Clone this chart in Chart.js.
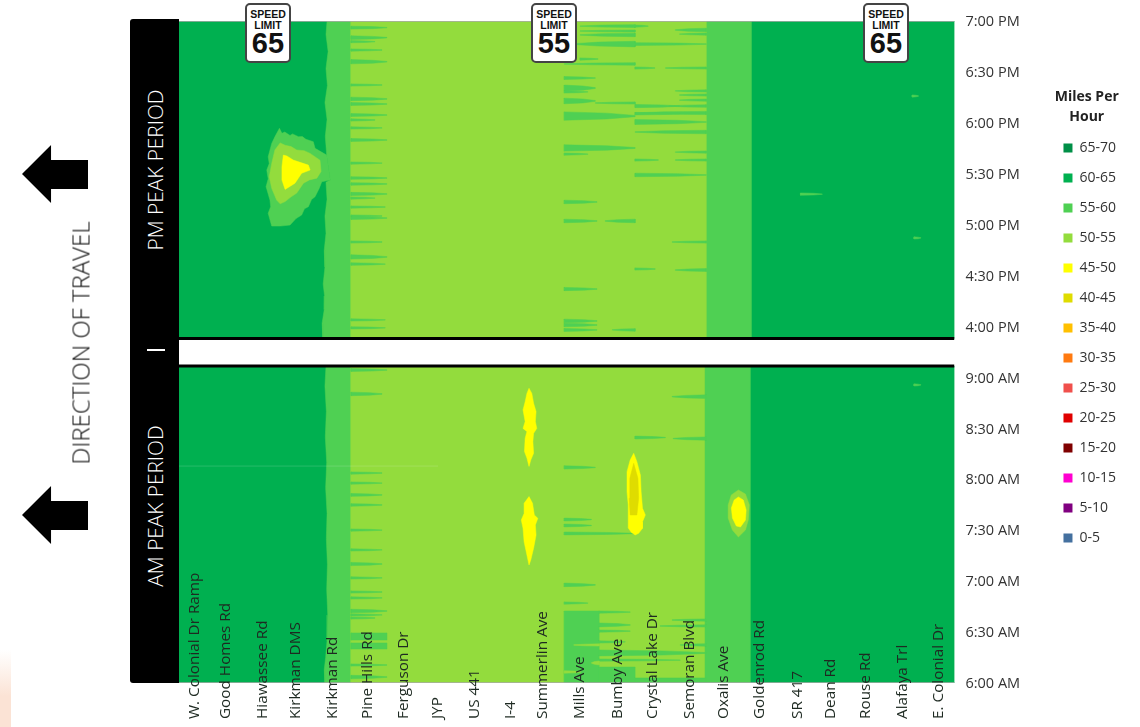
<!DOCTYPE html>
<html>
<head>
<meta charset="utf-8">
<title>Speed heat map</title>
<script src="https://cdn.jsdelivr.net/npm/chart.js@4"></script>
<style>
  html, body { margin: 0; background: #fff; font-family: "Open Sans", sans-serif; overflow: hidden; }
  #wrap { position: relative; width: 1140px; height: 727px; }
  #wrap canvas { position: absolute; left: 0; top: 0; }
  .peach { position: absolute; left: 0; top: 650px; width: 11px; height: 77px; background: linear-gradient(#fff, #fbe3d5 60%); }
  .side { position: absolute; left: 130px; top: 19px; width: 49px; height: 664px; background: #000; border-radius: 3px 0 0 3px; }
  .dash { position: absolute; left: 147px; top: 349px; width: 18px; height: 2px; background: #fff; }
  .rot { position: absolute; white-space: nowrap; transform: translate(-50%, -50%) rotate(-90deg); }
  .period { color: #fff; font-size: 20.8px; font-weight: 300; }
  .dir { color: #111; font-size: 24px; font-weight: 300; }
  .arrow { position: absolute; left: 22px; width: 66px; height: 58px; background: #000;
    clip-path: polygon(0 50%, 44% 0, 44% 26%, 100% 26%, 100% 76%, 44% 76%, 44% 100%); }
  .sign { position: absolute; top: 3px; width: 42px; height: 56px; background: #fff; border: 2px solid #444; border-radius: 5px;
    text-align: center; font-family: "Liberation Sans", sans-serif; font-weight: bold; color: #111; }
  .sign small { display: block; font-size: 10.5px; line-height: 10.5px; margin-top: 4px; }
  .sign b { display: block; font-size: 29px; line-height: 27px; }
</style>
</head>
<body>
<div id="wrap">
  <canvas id="chart" width="1140" height="727"></canvas>
  <div class="peach"></div>
  <div class="side"></div>
  <div class="dash"></div>
  <div class="rot period" style="left:155px;top:170px">PM PEAK PERIOD</div>
  <div class="rot period" style="left:155px;top:506px">AM PEAK PERIOD</div>
  <div class="rot dir" style="left:80px;top:343px">DIRECTION OF TRAVEL</div>
  <div class="arrow" style="top:145px"></div>
  <div class="arrow" style="top:486px"></div>
  <div class="sign" style="left:245px"><small>SPEED<br>LIMIT</small><b>65</b></div>
  <div class="sign" style="left:531px"><small>SPEED<br>LIMIT</small><b>55</b></div>
  <div class="sign" style="left:863px"><small>SPEED<br>LIMIT</small><b>65</b></div>
</div>
<script>
// legend bins, fastest first
const speedBins = ['65-70','60-65','55-60','50-55','45-50','40-45','35-40','30-35','25-30','20-25','15-20','10-15','5-10','0-5'];
const speedColors = ['#008f47','#00b050','#4fd053','#93dc3d','#ffff00','#dfdc00','#ffc000','#ff7a10','#f0504c','#e00000','#7f0000','#ff00d0','#800080','#44709f'];

// y axis runs in half hour steps, 30 units per tick
const timeLabels = ['6:00 AM','6:30 AM','7:00 AM','7:30 AM','8:00 AM','8:30 AM','9:00 AM','4:00 PM','4:30 PM','5:00 PM','5:30 PM','6:00 PM','6:30 PM','7:00 PM'];

const stations = ['W. Colonial Dr Ramp','Good Homes Rd','Hiawassee Rd','Kirkman DMS','Kirkman Rd','Pine Hills Rd','Ferguson Dr','JYP','US 441','I-4','Summerlin Ave','Mills Ave','Bumby Ave','Crystal Lake Dr','Semoran Blvd','Oxalis Ave','Goldenrod Rd','SR 417','Dean Rd','Rouse Rd','Alafaya Trl','E. Colonial Dr'];
const stationMiles = [0.43,1.33,2.36,3.32,4.37,5.34,6.36,7.35,8.40,9.40,10.33,11.38,12.43,13.45,14.48,15.44,16.46,17.54,18.48,19.47,20.52,21.54];

// period limits on the y axis
const amRange = [0, 186.7];
const pmRange = [202.9, 390];

// edge of the 55-60 band next to Kirkman Rd, [mile, y]
const kirkmanEdgePm = [[4.20,390],[4.17,382],[4.23,372],[4.17,362],[4.21,352],[4.14,342],[4.20,332],[4.15,322],[4.19,311],[4.29,296.3],[4.17,295],[4.20,285],[4.14,275],[4.17,265],[4.12,255],[4.14,245],[4.09,235],[4.13,228],[4.12,220],[4.06,212],[4.08,202.9]];
const kirkmanEdgeAm = [[4.17,186.7],[4.14,175],[4.18,160],[4.15,145],[4.19,130],[4.16,115],[4.20,100],[4.18,85],[4.21,70],[4.19,55],[4.22,40],[4.20,25],[4.16,15],[4.12,8],[4.14,0]];

// Pine Hills comb, 55-60 wedges [y, thickness, tip mile], root at mile 4.88
const combPm = [[386.1,1.2,5.9],[380.2,1.6,5.9],[377.8,0.8,5.56],[372.9,0.8,5.76],[366,2,5.9],[352.3,0.8,5.76],[344.1,1.6,5.9],[341.1,1.2,5.9],[334.6,1.2,5.9],[331.7,0.8,5.56],[327,0.8,5.76],[319.9,1.2,5.9],[306.3,0.8,5.76],[297.5,1,5.9],[294,1,5.9],[288.1,1.4,5.9],[285.7,0.8,5.56],[280.4,0.8,5.85],[275.1,0.8,5.76],[273.9,1.2,5.9],[259.8,0.8,5.76],[251,2,5.9],[246.8,1,5.85],[213.9,0.8,5.85],[209.2,0.8,5.85]];
const combAm = [[184.4,1.2,5.9],[170.3,1.6,5.76],[123.7,0.8,5.76],[117.8,0.8,5.76],[110.8,1.2,5.76],[104.9,1,5.76],[90.1,0.8,5.76],[78.4,0.8,5.76],[70.1,1.4,5.76],[61.9,0.8,5.76],[53.6,0.8,5.76],[50.1,0.8,5.76],[42.4,1.6,5.9],[40.1,0.8,5.76],[38.3,0.8,5.56],[10.6,0.8,5.9],[3.5,1.6,5.9]];
// square ended pieces [y, thickness, from mile, to mile]
const blocks5560 = [[27.4,4.2,4.88,5.9],[21.8,3.6,4.88,5.9],[21.2,42.4,10.93,11.92],[4.7,9.4,11.92,12.94],[1.5,3,12.94,14.96]];

// streaks between Mills Ave and Oxalis Ave [y, thickness, root mile, tip mile]
const streaksPm = [
  [387,1.2,12.94,11.38],[384.1,0.8,12.94,11.38],[381.8,1.6,12.94,11.38],[376.4,2.8,12.94,11.2],[367.6,0.8,11.38,11.89],[364.7,1,12.94,10.93],
  [356.4,1.2,10.93,11.81],[350.5,3,10.93,11.81],[348.2,0.8,10.93,11.6],[342.9,2.8,10.93,11.81],[341.7,0.8,12.94,11.81],[334,4.4,10.93,12.94],
  [315.2,3.2,10.93,12.94],[311.6,0.8,10.93,11.6],[283.4,1.6,10.93,11.86],[272.2,1.6,10.93,11.86],[272.2,1.6,12.94,12.09],[232.1,1.4,10.93,11.86],
  [213.3,1.6,10.93,11.86],[210.9,1.6,10.93,11.86],[208,1.2,10.93,11.86],[208,1,12.94,12.29],
  [387,0.8,12.94,13.31],[384.7,1.6,14.96,14.08],[382.3,0.8,14.96,14.2],[376.4,1.2,12.94,14.96],[362.3,0.8,12.94,13.5],[362.3,0.8,14.96,13.8],
  [348.8,0.8,14.96,14.08],[346.4,0.8,14.96,14.2],[343.4,0.8,14.96,14.2],[339.9,1.4,12.94,14.2],[339.9,1,14.96,13.9],[335.8,1.4,14.96,12.94],[335.4,1,12.94,14.2],
  [330.5,2.4,12.94,14.96],[324.6,1.6,14.96,12.94],[312.8,0.8,14.96,14.08],[308.1,0.8,12.94,13.6],[308.1,0.8,14.96,14.08],[299.3,1.6,12.94,14.96],
  [259.8,0.8,14.96,13.99],[243.9,0.8,12.94,13.51],[243.3,1.2,14.96,14.08]
];
const streaksAm = [
  [168.7,1.6,14.96,13.99],[144.6,1.2,12.94,13.8],[144,1.4,14.96,14.02],[127,1.4,10.93,11.81],[96.3,1.2,10.93,11.7],[92.8,1.2,10.93,11.7],[88.1,1.2,10.93,12.94],
  [57.8,1.6,10.93,11.81],[47.1,0.8,10.93,11.6],[41.8,0.8,11.92,12.8],[34.2,1.8,11.92,12.8],[30.6,0.8,11.92,12.8],[24.2,0.8,11.92,12.66],[17.7,3,11.92,14.96],[13.5,0.8,11.92,14.22],
  [37.1,0.8,14.96,13.99],[33.6,0.8,14.96,13.65],[22.4,1,14.96,14.22]
];
// small dabs out on the 60-65 stretch [y, thickness, root mile, tip mile]
const dabs = [[288,0.9,17.63,18.25],[345.8,0.8,20.8,20.98],[262.2,0.8,20.85,21.05],[175.6,0.8,20.85,21.05]];
// paler gaps inside the Mills block, 50-55
const palePieces = [[22.4,0.8,11.92,11.2],[11.8,1.8,11.92,11.7],[6.5,1,10.93,11.4]];

// congestion shapes, [mile, y]
const hotspot5560 = [[2.85,326.8],[2.92,323.8],[3.0,324.6],[3.15,322.6],[3.22,323.5],[3.39,321.8],[3.5,321.9],[3.6,320.3],[3.81,318.9],[3.86,315],[4.19,311],[4.29,296.3],[4.05,295.3],[3.98,291.5],[3.86,286.5],[3.76,284.8],[3.67,280.6],[3.56,279.4],[3.48,275.7],[3.32,273.6],[3.15,269.8],[2.88,269.2],[2.63,269.2],[2.53,276.7],[2.6,280.6],[2.58,284.5],[2.47,292.4],[2.53,297],[2.49,302.2],[2.56,306],[2.53,310],[2.63,317.9],[2.72,321.8]];
const hotspot5055 = [[2.87,318.2],[3.01,316.8],[3.18,316],[3.34,314],[3.55,313.6],[3.72,312],[4,308],[4.03,301.3],[3.91,297.4],[3.7,296.4],[3.53,294.4],[3.34,288.6],[3.18,286.4],[3.01,283.6],[2.87,282.3],[2.77,284.5],[2.63,291.4],[2.56,298.3],[2.63,306.1],[2.72,314]];
const hotspot4550 = [[2.96,311],[3.06,310.5],[3.24,308.1],[3.67,305.1],[3.72,302.2],[3.48,300.3],[3.29,294.4],[3.01,290.8],[2.92,296.3],[2.92,304.2]];
const summerlinUpper = [[9.93,173.6],[10.01,170.6],[10.06,164.8],[10.13,159.9],[10.11,154],[10.15,150],[10.06,147.1],[10.04,142.2],[10.06,135.4],[9.98,131.4],[9.93,127.6],[9.87,132.5],[9.8,136.4],[9.82,144.2],[9.87,148.1],[9.76,150],[9.82,154],[9.76,160.9],[9.82,165.7],[9.87,170.6]];
const summerlinLower = [[9.93,109.8],[10.03,105.9],[10.08,99],[10.18,97],[10.11,93.1],[10.13,87.2],[10.06,79.4],[9.98,72.5],[9.93,69.5],[9.87,75.4],[9.79,83.2],[9.76,91.1],[9.71,96],[9.79,99.9],[9.79,105.9]];
const crystalLake = [[12.9,135.3],[12.99,130.4],[13.09,122.5],[13.11,112.7],[13.15,102.9],[13.23,99],[13.15,95],[13.15,91.1],[13.04,88.2],[12.94,87.2],[12.83,88.8],[12.74,91.5],[12.75,95],[12.74,104.9],[12.71,112.7],[12.71,124.5],[12.8,131.4]];
const crystalCore = [[12.9,129.4],[13.02,120.6],[13.04,108.8],[12.99,99],[12.8,99],[12.77,108.8],[12.79,120.6]];
const oxalisOuter = [[15.87,113.7],[16.07,111.3],[16.18,104.9],[16.15,96],[16.07,90.1],[15.87,86],[15.7,90.1],[15.58,97.2],[15.58,104.9],[15.67,110.8]];
const oxalisInner = [[15.87,109.6],[16.01,107.8],[16.09,101.9],[16.07,96],[15.93,91.9],[15.81,92.5],[15.7,97.2],[15.67,103.1],[15.75,107.8]];

function binColor(bin) {
  return speedColors[speedBins.indexOf(bin)];
}

function rect(x0, x1, y0, y1) {
  return [[x0,y0],[x1,y0],[x1,y1],[x0,y1]];
}

// thick at the root, holds most of its width, then runs out to a thin tip
function wedge(y, thick, root, tip) {
  const h = thick / 2 + 0.25;
  const mid = root + (tip - root) * 0.6;
  return [[root,y-h],[mid,y-h*0.7],[tip,y-h*0.15],[tip,y+h*0.15],[mid,y+h*0.7],[root,y+h]];
}

// empty datasets first so the legend lists every bin
const datasets = speedBins.map((bin, i) => ({ label: bin, data: [], backgroundColor: speedColors[i], borderWidth: 0, showLine: false, pointRadius: 0 }));
const legendCount = datasets.length;

function addShape(bin, points) {
  const closed = points.concat([points[0]]).map(p => ({ x: p[0], y: p[1] }));
  datasets.push({
    data: closed, showLine: true, fill: 'shape', tension: 0, pointRadius: 0, borderWidth: 0.5,
    borderColor: binColor(bin), backgroundColor: binColor(bin)
  });
}

function addRule(y, color, width, xEnd) {
  datasets.push({
    data: [{ x: 0, y: y }, { x: xEnd, y: y }], showLine: true, fill: false, pointRadius: 0,
    borderColor: color, borderWidth: width, backgroundColor: color
  });
}

// bands, painted slowest on top
addShape('60-65', rect(0, 22, pmRange[0], pmRange[1]));
addShape('60-65', rect(0, 22, amRange[0], amRange[1]));
addShape('55-60', kirkmanEdgePm.concat([[16.24,pmRange[0]],[16.24,pmRange[1]]]));
addShape('55-60', kirkmanEdgeAm.concat([[16.21,amRange[0]],[16.21,amRange[1]]]));
addShape('50-55', rect(4.88, 14.96, pmRange[0], pmRange[1]));
addShape('50-55', rect(4.88, 14.91, amRange[0], amRange[1]));

combPm.concat(combAm).forEach(r => addShape('55-60', wedge(r[0], r[1], 4.88, r[2])));
blocks5560.forEach(r => addShape('55-60', rect(r[2], r[3], r[0]-r[1]/2, r[0]+r[1]/2)));
streaksPm.concat(streaksAm).concat(dabs).forEach(r => addShape('55-60', wedge(r[0], r[1], r[2], r[3])));
palePieces.forEach(r => addShape('50-55', wedge(r[0], r[1], r[2], r[3])));

addShape('55-60', hotspot5560);
addShape('50-55', hotspot5055);
addShape('45-50', hotspot4550);
addShape('45-50', summerlinUpper);
addShape('45-50', summerlinLower);
addShape('45-50', crystalLake);
addShape('40-45', crystalCore);
addShape('50-55', oxalisOuter);
addShape('45-50', oxalisInner);

addRule(127.8, 'rgba(255,255,255,0.15)', 1, 7.35);
addRule(202.9, '#000', 3, 22);
addRule(186.7, '#000', 3, 22);
addRule(390, '#aaa', 1.5, 22);
addRule(0, '#aaa', 1.5, 22);

// first listed is the bottom layer
datasets.forEach((d, i) => { d.order = datasets.length - i; });

// station names sit over the bottom of the plot and hang below it
const stationLabels = {
  id: 'stationLabels',
  afterDatasetsDraw(chart) {
    const { ctx, scales } = chart;
    ctx.save();
    ctx.font = '15.3px "Open Sans"';
    ctx.fillStyle = '#1e2a22';
    ctx.textAlign = 'left';
    ctx.textBaseline = 'middle';
    stations.forEach((name, i) => {
      ctx.save();
      ctx.translate(scales.x.getPixelForValue(stationMiles[i]), 719);
      ctx.rotate(-Math.PI / 2);
      ctx.fillText(name, 0, 0);
      ctx.restore();
    });
    ctx.restore();
  }
};

new Chart(document.getElementById('chart'), {
  type: 'scatter',
  data: { datasets },
  plugins: [stationLabels],
  options: {
    responsive: false,
    animation: false,
    layout: { padding: { left: 179, top: 21, bottom: 44, right: 14 } },
    scales: {
      x: { type: 'linear', min: 0, max: 22, display: false },
      y: {
        type: 'linear', position: 'right', min: 0, max: 390,
        grid: { display: false },
        border: { display: false },
        afterFit(scale) { scale.width = 93; },
        ticks: {
          stepSize: 30, padding: 3, labelOffset: 1, color: '#333', font: { family: 'Open Sans', size: 14.5 },
          callback: (v) => timeLabels[v / 30]
        }
      }
    },
    plugins: {
      tooltip: { enabled: false },
      legend: {
        position: 'right',
        align: 'start',
        title: {
          display: true,
          text: ['Miles Per', 'Hour'],
          color: '#222',
          font: { family: 'Open Sans', size: 14, weight: 'bold', lineHeight: 1.43 },
          padding: { top: 69, bottom: 15 }
        },
        labels: {
          boxWidth: 9, boxHeight: 9, padding: 16, color: '#333',
          font: { family: 'Open Sans', size: 14 },
          filter: (item) => item.datasetIndex < legendCount,
          sort: (a, b) => a.datasetIndex - b.datasetIndex
        }
      }
    }
  }
});
</script>
</body>
</html>
